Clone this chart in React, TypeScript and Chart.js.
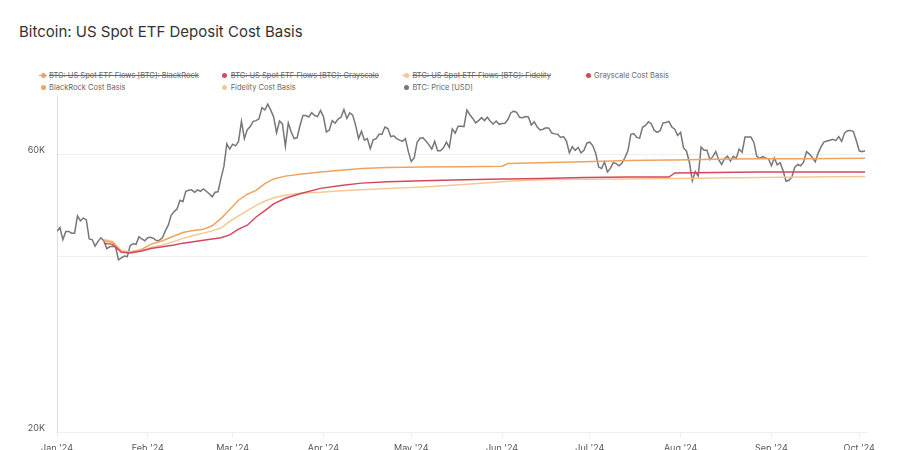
import React, { useEffect, useRef } from "react";
import { Chart, registerables } from "chart.js";

Chart.register(...registerables);

// ---- data ----
const titleText = "Bitcoin: US Spot ETF Deposit Cost Basis";

// x positions are day offsets from 1 Jan 2024
const monthTickDays = [0, 31, 60, 91, 121, 152, 182, 213, 244, 274];
const monthTickLabels = ["Jan '24", "Feb '24", "Mar '24", "Apr '24", "May '24", "Jun '24", "Jul '24", "Aug '24", "Sep '24", "Oct '24"];

const yTickValues = [20000, 40000, 60000];
const yTickLabels = ["20K", "", "60K"];

// BTC daily price (thousand USD), 1 Jan 2024 .. 3 Oct 2024
const priceK = [
  // Jan
  44.2, 44.9, 42.8, 44.2, 44.2, 43.9, 43.9, 47.0, 46.1, 46.6, 46.3, 42.9, 42.8, 41.7, 42.5, 43.1, 42.6, 41.3, 41.6, 41.7, 41.6, 39.5, 39.8, 40.1, 40.0, 41.8, 42.1, 42.0, 43.3, 42.9, 42.6,
  // Feb
  43.1, 43.2, 43.0, 42.6, 42.7, 43.1, 44.3, 45.3, 47.1, 47.8, 48.3, 50.0, 49.7, 51.8, 52.0, 52.1, 51.6, 52.1, 51.8, 52.3, 51.8, 51.3, 50.7, 51.6, 51.7, 54.5, 57.1, 62.5, 61.2,
  // Mar
  62.4, 62.0, 63.1, 68.3, 63.8, 66.1, 66.9, 68.3, 68.5, 69.0, 72.1, 71.5, 73.1, 71.4, 69.5, 65.3, 68.4, 67.6, 61.9, 67.9, 65.5, 63.8, 64.0, 67.2, 69.9, 69.9, 69.5, 70.7, 69.9, 69.6, 71.3,
  // Apr
  69.6, 65.5, 66.0, 68.5, 67.8, 68.9, 69.4, 71.6, 69.1, 70.6, 70.0, 67.2, 63.8, 65.7, 63.4, 63.8, 61.3, 63.5, 63.8, 64.9, 64.9, 66.8, 66.4, 64.3, 64.5, 63.8, 63.4, 63.1, 63.8, 60.6,
  // May
  58.3, 59.1, 62.9, 63.9, 64.0, 63.2, 62.3, 61.2, 63.1, 60.8, 60.8, 61.5, 62.9, 61.6, 66.3, 65.2, 67.0, 67.0, 66.9, 71.4, 70.1, 69.1, 67.9, 68.5, 69.3, 68.5, 69.4, 68.3, 67.6, 68.4, 67.5,
  // Jun
  67.7, 67.8, 68.8, 70.6, 71.1, 70.8, 69.4, 69.3, 69.6, 69.5, 67.3, 68.2, 66.8, 66.0, 66.2, 66.6, 66.5, 65.2, 65.0, 64.9, 64.1, 64.3, 63.2, 60.3, 61.8, 60.9, 61.6, 60.3, 60.9, 62.7,
  // Jul
  62.9, 62.0, 60.2, 57.0, 56.7, 58.2, 55.9, 56.7, 58.0, 57.8, 57.3, 57.9, 59.2, 60.8, 64.9, 65.1, 64.1, 63.9, 66.7, 67.2, 68.2, 67.6, 65.9, 65.4, 65.8, 67.9, 68.0, 68.3, 66.8, 66.2, 64.6,
  // Aug
  65.4, 61.5, 60.7, 58.1, 54.0, 56.0, 55.0, 61.7, 60.9, 60.9, 58.7, 59.4, 60.6, 58.7, 57.6, 58.9, 59.5, 58.4, 59.5, 59.0, 61.2, 60.4, 64.2, 64.2, 64.2, 62.9, 59.5, 59.0, 59.4, 59.1, 58.9,
  // Sep
  57.3, 59.1, 57.5, 58.0, 56.2, 53.9, 54.1, 54.8, 57.0, 57.6, 57.3, 58.1, 60.6, 60.0, 59.2, 58.2, 60.3, 61.8, 63.0, 63.2, 63.4, 63.6, 63.3, 64.3, 63.1, 65.2, 65.8, 65.9, 65.6, 63.3,
  // Oct
  60.8, 60.6, 60.8,
];

// cost basis readings (thousand USD) at these day offsets
const costBasisDays = [16, 19, 22, 25, 29, 32, 36, 40, 43, 46, 50, 53, 56, 59, 62, 65, 68, 71, 74, 78, 83, 90, 97, 104, 113, 125, 139, 152, 154, 165, 180, 195, 209, 211, 225, 240, 255, 276];
const blackrockCostBasisK = [42.6, 42.3, 40.8, 40.7, 41.2, 42.0, 42.6, 43.4, 44.0, 44.3, 44.6, 45.2, 46.5, 48.2, 50.0, 51.2, 52.0, 53.4, 54.4, 55.0, 55.4, 55.9, 56.3, 56.7, 56.9, 57.0, 57.1, 57.2, 57.8, 58.0, 58.2, 58.5, 58.6, 58.6, 58.8, 58.9, 58.9, 59.0];
const grayscaleCostBasisK = [42.2, 42.0, 40.7, 40.6, 40.9, 41.3, 41.6, 41.9, 42.2, 42.4, 42.7, 42.9, 43.1, 43.6, 44.6, 45.3, 46.8, 48.0, 49.3, 50.4, 51.3, 52.4, 53.0, 53.5, 53.8, 54.0, 54.2, 54.4, 54.4, 54.5, 54.7, 54.8, 54.8, 55.7, 55.8, 55.9, 55.9, 55.9];
const fidelityCostBasisK = [42.8, 42.5, 41.0, 40.8, 41.0, 41.5, 41.9, 42.5, 43.0, 43.4, 43.9, 44.3, 44.8, 46.0, 47.0, 48.0, 49.0, 49.8, 50.5, 51.0, 51.4, 51.6, 51.9, 52.1, 52.4, 52.7, 53.2, 53.8, 53.9, 54.2, 54.3, 54.4, 54.5, 54.5, 54.6, 54.7, 54.8, 54.9];

const seriesNames = [
  "BTC: US Spot ETF Flows [BTC]: BlackRock",
  "BTC: US Spot ETF Flows [BTC]: Grayscale",
  "BTC: US Spot ETF Flows [BTC]: Fidelity",
  "Grayscale Cost Basis",
  "BlackRock Cost Basis",
  "Fidelity Cost Basis",
  "BTC: Price [USD]",
];
const seriesColors = ["#f0a35e", "#d4485f", "#f6c795", "#d4485f", "#f0a35e", "#f6c795", "#777777"];
const seriesHidden = [true, true, true, false, false, false, false];
const seriesLineMarker = [true, false, true, false, false, false, false];

const X_MAX = 277;
const Y_MIN = 20000;
const Y_MAX = 75500;

function toPoints(days: number[], valuesK: number[]) {
  return valuesK.map((v, i) => ({ x: days[i], y: v * 1000 }));
}

export default function App() {
  const canvasRef = useRef<HTMLCanvasElement | null>(null);

  useEffect(() => {
    document.body.style.margin = "0";
    const canvas = canvasRef.current;
    if (!canvas) return;

    const priceDays = priceK.map((_, i) => i);
    const dataBySeries: { x: number; y: number }[][] = [
      [],
      [],
      [],
      toPoints(costBasisDays, grayscaleCostBasisK),
      toPoints(costBasisDays, blackrockCostBasisK),
      toPoints(costBasisDays, fidelityCostBasisK),
      toPoints(priceDays, priceK),
    ];

    const datasets = seriesNames.map((name, i) => ({
      label: name,
      data: dataBySeries[i],
      borderColor: seriesColors[i],
      backgroundColor: seriesColors[i],
      borderWidth: 1.5,
      pointRadius: 0,
      tension: 0,
      hidden: seriesHidden[i],
      order: i === 6 ? 10 : i,
    }));

    const chart = new Chart(canvas, {
      type: "line",
      data: { datasets },
      options: {
        animation: false,
        responsive: false,
        layout: { padding: { top: 96, right: 32, left: 0, bottom: 0 } },
        plugins: {
          legend: { display: false },
          tooltip: { enabled: false },
          title: { display: false },
        },
        scales: {
          x: {
            type: "linear",
            min: 0,
            max: X_MAX,
            afterBuildTicks: (scale: any) => {
              scale.ticks = monthTickDays.map((d) => ({ value: d }));
            },
            afterFit: (scale: any) => {
              scale.height = 18;
            },
            grid: {
              drawOnChartArea: false,
              drawTicks: true,
              tickLength: 5,
              color: "#ececec",
            },
            border: { display: false },
            ticks: {
              autoSkip: false,
              maxRotation: 0,
              padding: 6,
              color: "#555",
              font: { family: "Inter", size: 9 },
              callback: (value: any) => {
                const idx = monthTickDays.indexOf(Number(value));
                return idx >= 0 ? monthTickLabels[idx] : "";
              },
            },
          },
          y: {
            type: "logarithmic",
            min: Y_MIN,
            max: Y_MAX,
            afterBuildTicks: (scale: any) => {
              scale.ticks = yTickValues.map((v) => ({ value: v }));
            },
            afterFit: (scale: any) => {
              scale.width = 57;
            },
            grid: { color: "#efefef", drawTicks: false },
            border: { display: true, color: "#dcdcdc" },
            ticks: {
              padding: 12,
              labelOffset: -4,
              color: "#555",
              font: { family: "Inter", size: 9 },
              callback: (value: any) => {
                const idx = yTickValues.indexOf(Number(value));
                return idx >= 0 ? yTickLabels[idx] : "";
              },
            },
          },
        },
      },
    });

    return () => chart.destroy();
  }, []);

  return (
    <div
      style={{
        position: "relative",
        width: 900,
        height: 450,
        background: "#fff",
        overflow: "hidden",
        fontFamily: "Inter, sans-serif",
      }}
    >
      <div
        style={{
          position: "absolute",
          left: 19,
          top: 23,
          fontSize: 15,
          lineHeight: "18px",
          color: "#333",
          whiteSpace: "nowrap",
        }}
      >
        {titleText}
      </div>
      <div
        style={{
          position: "absolute",
          left: 39,
          top: 69,
          width: 727,
          display: "grid",
          gridTemplateColumns: "repeat(4, 181.7px)",
          rowGap: 0,
        }}
      >
        {seriesNames.map((name, i) => (
          <div
            key={name}
            style={{
              display: "flex",
              alignItems: "center",
              height: 12,
              fontSize: 7.5,
              color: "#666",
              whiteSpace: "nowrap",
            }}
          >
            <span
              style={{
                position: "relative",
                display: "inline-block",
                width: 8,
                height: 8,
                marginRight: 2,
              }}
            >
              {seriesLineMarker[i] ? (
                <span
                  style={{
                    position: "absolute",
                    left: 0,
                    top: 3.5,
                    width: 8,
                    height: 1,
                    background: seriesColors[i],
                  }}
                />
              ) : null}
              <span
                style={{
                  position: "absolute",
                  left: 1.5,
                  top: 1.5,
                  width: 5,
                  height: 5,
                  borderRadius: "50%",
                  background: seriesColors[i],
                }}
              />
            </span>
            <span style={{ textDecoration: seriesHidden[i] ? "line-through" : "none" }}>{name}</span>
          </div>
        ))}
      </div>
      <canvas
        ref={canvasRef}
        width={900}
        height={450}
        style={{ position: "absolute", left: 0, top: 0, width: 900, height: 450 }}
      />
    </div>
  );
}
